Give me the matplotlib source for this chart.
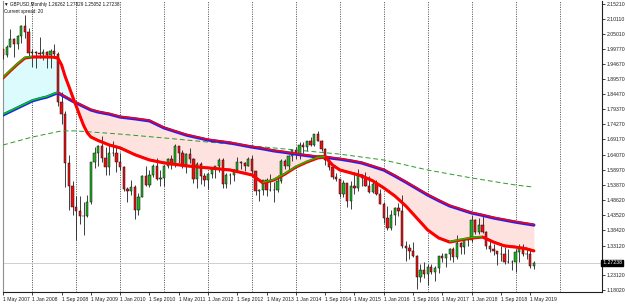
import matplotlib
matplotlib.use("Agg")
import matplotlib.pyplot as plt
from matplotlib.collections import LineCollection
import numpy as np

# ---------------- data (monthly GBPUSD, May 2007 .. Jun 2019) ----------------
opens = [1.9985,1.9788,2.0060,2.0323,2.0176,2.0443,2.0790,2.0570,
         1.9850,1.9890,1.9858,1.9839,1.9890,1.9795,1.9932,1.9830,1.8200,1.7800,1.6130,1.5350,
         1.4620,1.4490,1.4307,1.4333,1.4790,1.6150,1.6450,1.6700,1.6300,1.5980,1.6450,1.6450,
         1.6150,1.5990,1.5230,1.5180,1.5300,1.4530,1.4950,1.5690,1.5360,1.5700,1.6020,1.5590,
         1.5610,1.6020,1.6260,1.6040,1.6700,1.6450,1.6060,1.6430,1.6250,1.5590,1.6080,1.5690,
         1.5540,1.5760,1.5910,1.6000,1.6230,1.5400,1.5700,1.5700,1.5870,1.6150,1.6130,1.6030,
         1.6250,1.5850,1.5170,1.5190,1.5530,1.5190,1.5210,1.5210,1.5490,1.6190,1.6030,1.6370,
         1.6560,1.6440,1.6740,1.6670,1.6880,1.6740,1.7100,1.6880,1.6600,1.6210,1.5990,1.5640,
         1.5580,1.5060,1.5440,1.4820,1.5350,1.5280,1.5710,1.5610,1.5350,1.5120,1.5420,1.5060,
         1.4740,1.4250,1.3920,1.4360,1.4600,1.4480,1.3310,1.3220,1.3130,1.2970,1.2240,1.2470,
         1.2340,1.2580,1.2410,1.2550,1.2950,1.2890,1.3020,1.3210,1.2930,1.3400,1.3280,1.3520,
         1.3510,1.4190,1.3760,1.4020,1.3770,1.3300,1.3200,1.3120,1.3020,1.3030,1.2770,1.2740,
         1.2750,1.3080,1.3260,1.3030,1.3030,1.26262]
highs = [1.9993,2.0122,2.0655,2.0378,2.0463,2.0811,2.1161,2.0700,
         1.9985,1.9937,2.0397,2.0000,1.9938,2.0000,2.0158,1.9880,1.8520,1.7870,1.6380,1.5500,
         1.5000,1.4985,1.4780,1.5020,1.6167,1.6661,1.6741,1.7043,1.6659,1.6743,1.6877,1.6660,
         1.6457,1.6000,1.5312,1.5525,1.5383,1.5110,1.5720,1.6000,1.5890,1.6100,1.6300,1.5890,
         1.6060,1.6280,1.6400,1.6748,1.6700,1.6547,1.6470,1.6618,1.6290,1.6140,1.6166,1.5780,
         1.5790,1.5960,1.6020,1.6280,1.6300,1.5780,1.5780,1.5910,1.6310,1.6190,1.6140,1.6310,
         1.6380,1.5860,1.5230,1.5550,1.5600,1.5750,1.5470,1.5720,1.6260,1.6260,1.6380,1.6600,
         1.6670,1.6820,1.6820,1.6880,1.6990,1.7110,1.7190,1.6900,1.6640,1.6250,1.6010,1.5790,
         1.5590,1.5550,1.5450,1.5500,1.5810,1.5930,1.5730,1.5820,1.5660,1.5510,1.5530,1.5240,
         1.4810,1.4670,1.4510,1.4640,1.4770,1.5020,1.3480,1.3370,1.3450,1.2990,1.2670,1.2770,
         1.2700,1.2700,1.2620,1.2960,1.3050,1.3030,1.3220,1.3260,1.3660,1.3420,1.3550,1.3550,
         1.4350,1.4200,1.4240,1.4380,1.3800,1.3470,1.3360,1.3130,1.3300,1.3260,1.3180,1.2830,
         1.3210,1.3350,1.3380,1.3180,1.3180,1.27829]
lows = [1.9659,1.9734,2.0060,1.9736,1.9980,2.0199,2.0377,1.9760,
        1.9366,1.9361,1.9700,1.9620,1.9350,1.9362,1.9720,1.8050,1.7444,1.5309,1.4510,1.4365,
        1.3503,1.4050,1.3657,1.4287,1.4710,1.5940,1.6004,1.6165,1.5706,1.5707,1.6357,1.5829,
        1.5877,1.5154,1.4784,1.5023,1.4230,1.4350,1.4950,1.5350,1.5290,1.5650,1.5555,1.5350,
        1.5350,1.5960,1.5930,1.5990,1.6130,1.5940,1.5780,1.6110,1.5430,1.5272,1.5420,1.5350,
        1.5233,1.5600,1.5600,1.5800,1.5270,1.5270,1.5390,1.5490,1.5820,1.5910,1.5830,1.6000,
        1.5680,1.5020,1.4830,1.5020,1.5010,1.5170,1.4810,1.5130,1.5430,1.5900,1.5890,1.6200,
        1.6250,1.6250,1.6460,1.6530,1.6690,1.6690,1.6850,1.6530,1.6050,1.5870,1.5590,1.5490,
        1.4950,1.4950,1.4630,1.4570,1.5080,1.5170,1.5330,1.5330,1.5110,1.5110,1.5030,1.4733,
        1.4080,1.3840,1.3840,1.4000,1.4330,1.3220,1.2800,1.2860,1.2910,1.1841,1.2080,1.2200,
        1.1986,1.2340,1.2110,1.2370,1.2770,1.2590,1.2810,1.2770,1.2840,1.3020,1.3040,1.3300,
        1.3450,1.3720,1.3710,1.3750,1.3200,1.3100,1.3000,1.2660,1.2800,1.2690,1.2720,1.2480,
        1.2400,1.2770,1.2960,1.2870,1.2560,1.25052]
closes = [1.9788,2.0060,2.0323,2.0176,2.0443,2.0790,2.0570,1.9850,
          1.9890,1.9858,1.9839,1.9890,1.9795,1.9932,1.9830,1.8200,1.7800,1.6130,1.5350,1.4620,
          1.4490,1.4307,1.4333,1.4790,1.6150,1.6450,1.6700,1.6300,1.5980,1.6450,1.6450,1.6150,
          1.5990,1.5230,1.5180,1.5300,1.4530,1.4950,1.5690,1.5360,1.5700,1.6020,1.5590,1.5610,
          1.6020,1.6260,1.6040,1.6700,1.6450,1.6060,1.6430,1.6250,1.5590,1.6080,1.5690,1.5540,
          1.5760,1.5910,1.6000,1.6230,1.5400,1.5700,1.5700,1.5870,1.6150,1.6130,1.6030,1.6250,
          1.5850,1.5170,1.5190,1.5530,1.5190,1.5210,1.5210,1.5490,1.6190,1.6030,1.6370,1.6560,
          1.6440,1.6740,1.6670,1.6880,1.6740,1.7100,1.6880,1.6600,1.6210,1.5990,1.5640,1.5580,
          1.5060,1.5440,1.4820,1.5350,1.5280,1.5710,1.5610,1.5350,1.5120,1.5420,1.5060,1.4740,
          1.4250,1.3920,1.4360,1.4600,1.4480,1.3310,1.3220,1.3130,1.2970,1.2240,1.2470,1.2340,
          1.2580,1.2410,1.2550,1.2950,1.2890,1.3020,1.3210,1.2930,1.3400,1.3280,1.3520,1.3510,
          1.4190,1.3760,1.4020,1.3770,1.3300,1.3200,1.3120,1.3020,1.3030,1.2770,1.2740,1.2750,
          1.3080,1.3260,1.3030,1.3030,1.2630,1.27238]
first_month = -8  # month index of May 2007 (Jan 2008 = 0)

# indicator lines (read at sampled months; month index, Jan 2008 = 0)
ma_months = [-8,-6,-4,-2,0,2,4,6,7,8,9,10,11,12,13,14,15,16,18,21,24,28,32,36,42,48,54,60,
             63,66,69,72,75,78,80,82,84,87,90,93,96,99,102,105,108,111,114,117,120,123,
             126,129,132,135,137]
fast_ma = [1.9007,1.925,1.9482,1.9686,1.9720,1.9720,1.9720,1.9710,1.9680,1.9450,1.9050,1.8720,
           1.8380,1.8050,1.7720,1.7400,1.7150,1.7000,1.6880,1.6730,1.6630,1.6400,1.6220,1.6120,
           1.6020,1.5950,1.5880,1.5710,1.5440,1.5540,1.5740,1.5980,1.6150,1.6290,1.6320,1.6050,
           1.5880,1.5780,1.5680,1.5510,1.5270,1.5000,1.4660,1.4250,1.3840,1.3570,1.3430,1.3500,
           1.3570,1.3600,1.3430,1.3300,1.3260,1.3200,1.3130]
slow_ma = [1.7750,1.7870,1.7990,1.8110,1.8230,1.8300,1.8360,1.8460,1.8500,1.8430,1.8360,1.8290,
           1.8220,1.8160,1.8100,1.8040,1.7980,1.7920,1.7850,1.7780,1.7680,1.7620,1.7550,1.7310,
           1.7070,1.6900,1.6800,1.6660,1.6600,1.6530,1.6480,1.6420,1.6370,1.6320,1.6320,1.6280,
           1.6250,1.6190,1.6120,1.6000,1.5880,1.5680,1.5470,1.5250,1.5030,1.4840,1.4660,1.4540,
           1.4420,1.4340,1.4250,1.4180,1.4110,1.4050,1.4010]
long_months = [-8,0,8,12,24,36,48,60,72,84,96,108,120,132,137]
long_ma = [1.6730,1.7000,1.7210,1.7210,1.7100,1.6970,1.6830,1.6700,1.6560,1.6420,1.6220,
           1.5880,1.5610,1.5370,1.5300]

# axes labels
xtick_months = [-8,0,8,16,24,32,40,48,56,64,72,80,88,96,104,112,120,128,136]
xtick_labels = ["1 May 2007","1 Jan 2008","1 Sep 2008","1 May 2009","1 Jan 2010","1 Sep 2010",
                "1 May 2011","1 Jan 2012","1 Sep 2012","1 May 2013","1 Jan 2014","1 Sep 2014",
                "1 May 2015","1 Jan 2016","1 Sep 2016","1 May 2017","1 Jan 2018","1 Sep 2018",
                "1 May 2019"]
ytick_labels = ["2.15210","2.10110","2.05010","1.99770","1.94670","1.89570","1.84470","1.79370",
                "1.74270","1.69170","1.64070","1.58970","1.53870","1.48620","1.43520","1.38420",
                "1.33120","1.23120","1.18020"]
year_grid_months = [0,12,24,36,48,60,72,84,96,108,120,132,144]
current_price = 1.27238
title_line1 = "\u25bc GBPUSD,Monthly 1.26262 1.27829 1.25052 1.27238"
title_line2 = "Current spread: 20"

# ---------------- drawing ----------------
plt.rcParams['font.family'] = ['Liberation Sans', 'DejaVu Sans']
W, H = 625, 304
fig = plt.figure(figsize=(W/100, H/100), dpi=100)
fig.patch.set_facecolor('white')
ax = fig.add_axes([3/W, 12/H, 599/W, 291/H])
ax.set_facecolor('white')

ymin = 2.1521 - (292-4)/294.3
ymax = 2.1521 + 3/294.3
ax.set_ylim(ymin, ymax)
x0 = (3 - 31.7)/3.665
x1 = (602 - 31.7)/3.665
ax.set_xlim(x0, x1)

# year separators
for m in year_grid_months:
    ax.axvline(m, color='#333333', lw=0.6, ls=(0, (1.2, 1.6)), zorder=1)

# current price line
ax.axhline(current_price, color='#c8c8c8', lw=0.6, zorder=1)

mm = np.array(ma_months, dtype=float)
fa = np.array(fast_ma)
sa = np.array(slow_ma)
ax.fill_between(mm, fa, sa, where=fa >= sa, interpolate=True, color='#dcfbfc', lw=0, zorder=2)
ax.fill_between(mm, fa, sa, where=fa <= sa, interpolate=True, color='#fde2df', lw=0, zorder=2)

# candles
o = np.array(opens); h = np.array(highs); l = np.array(lows); c = np.array(closes)
xs = first_month + np.arange(len(o))
ax.vlines(xs, l, h, color='#202020', lw=0.6, zorder=3)
up = c >= o
ax.bar(xs[up], c[up]-o[up], bottom=o[up], width=0.62, color='#20b020',
       edgecolor='#101010', linewidth=0.35, zorder=4)
ax.bar(xs[~up], c[~up]-o[~up], bottom=o[~up], width=0.62, color='#ee1010',
       edgecolor='#101010', linewidth=0.35, zorder=4)

# long MA dashed
ax.plot(long_months, long_ma, color='#2a9a2a', lw=0.7, ls=(0, (5, 3)), zorder=5)

def overlay(x, y, lw, up_color, down_color, z):
    pts = np.column_stack([x, y])
    segs = np.stack([pts[:-1], pts[1:]], axis=1)
    cols = [up_color if y[i+1] > y[i] else down_color for i in range(len(y)-1)]
    lc = LineCollection(segs, colors=cols, linewidths=lw, zorder=z, capstyle='round')
    ax.add_collection(lc)

# slow line: blue base, red/green overlay
ax.plot(mm, sa, color='#2020ff', lw=2.3, zorder=6, solid_capstyle='round')
overlay(mm, sa + 0.002, 1.1, '#00cc00', '#ff0000', 7)
# fast line: red base, green overlay when rising
ax.plot(mm, fa, color='#ff0000', lw=2.2, zorder=8, solid_capstyle='round')
overlay(mm, fa + 0.002, 1.0, '#00cc00', '#ff0000', 9)

# axes styling
ax.spines['top'].set_visible(False)
ax.spines['left'].set_color('#909090')
ax.spines['left'].set_linewidth(0.8)
ax.spines['right'].set_color('#202020')
ax.spines['right'].set_linewidth(0.8)
ax.spines['bottom'].set_color('#202020')
ax.spines['bottom'].set_linewidth(0.8)

ax.yaxis.tick_right()
ax.set_yticks([float(t) for t in ytick_labels])
ax.set_yticklabels(ytick_labels)
ax.tick_params(axis='y', direction='out', length=2, width=0.6, pad=1.5,
               labelsize=3.7, colors='#202020')
ax.set_xticks(xtick_months)
ax.set_xticklabels(xtick_labels, ha='left')
ax.tick_params(axis='x', direction='out', length=2.5, width=0.6, pad=1.2,
               labelsize=3.7, colors='#202020')

# current price box
ax.text(1.0, current_price, " " + f"{current_price:.5f}", transform=ax.get_yaxis_transform(),
        ha='left', va='center', fontsize=3.7, color='white',
        bbox=dict(boxstyle='square,pad=0.15', fc='black', ec='black'), zorder=10, clip_on=False)

fig.text(4/W, 1 - 4.5/H, title_line1, fontsize=3.3, va='center', ha='left', color='#101010')
fig.text(4/W, 1 - 11.5/H, title_line2, fontsize=3.3, va='center', ha='left', color='#101010')

fig.savefig('out.png', dpi=100)
